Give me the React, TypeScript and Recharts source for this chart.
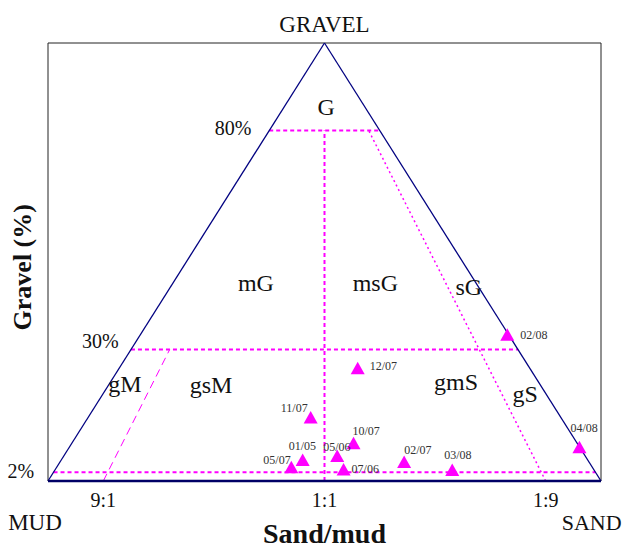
import React from 'react';
import {
  ScatterChart, Scatter, XAxis, YAxis, ReferenceLine, ReferenceArea, ReferenceDot,
} from 'recharts';

// Folk (1954) gravel-sand-mud classification, samples by date
const samples = ['02/08', '04/08', '12/07', '11/07', '10/07', '05/06', '01/05', '05/07', '07/06', '02/07', '03/08'];
const gravelPct = [33.3, 7.6, 25.6, 14.4, 8.5, 5.6, 4.7, 3.0, 2.5, 4.2, 2.4];
const sandPct = [66.4, 92.3, 43.2, 40.3, 51.0, 49.5, 43.7, 42.5, 52.2, 62.3, 71.9];

// class boundaries
const gravelLimits = [2, 30, 80];
const sandMudRatios = [0.1, 0.5, 0.9];
const ratioLabels = ['9:1', '1:1', '1:9'];
const regionNames = ['G', 'mG', 'msG', 'sG', 'gM', 'gsM', 'gmS', 'gS'];

const FONT = '"Liberation Serif", "Times New Roman", serif';
const NAVY = '#000080';
const MAGENTA = '#ff00ff';

// ternary -> cartesian (x across base, y = gravel %)
const toXY = (gravel: number, sand: number) => ({ x: sand + gravel / 2, y: gravel });
const onRatio = (ratio: number, gravel: number) => toXY(gravel, ratio * (100 - gravel));

const points = samples.map((name, i) => ({ name, ...toXY(gravelPct[i], sandPct[i]) }));

// where each sample label sits relative to its marker
const labelOffsets: Record<string, [number, number, 'start' | 'end']> = {
  '02/08': [13, 4, 'start'],
  '04/08': [-9, -16, 'start'],
  '12/07': [12, 1, 'start'],
  '11/07': [-3, -6, 'end'],
  '10/07': [-1, -9, 'start'],
  '05/06': [-14, -5, 'start'],
  '01/05': [-14, -10, 'start'],
  '05/07': [-28, -4, 'start'],
  '07/06': [8, 3, 'start'],
  '02/07': [0, -9, 'start'],
  '03/08': [-8, -11, 'start'],
};

const regionPos: Record<string, [number, number]> = {
  G: [50.3, 83.6], mG: [37.6, 43.4], msG: [59.2, 43.4], sG: [76.1, 42.5],
  gM: [13.9, 20.4], gsM: [29.5, 20.0], gmS: [73.8, 20.8], gS: [86.3, 18.1],
};

function Marker(props: any) {
  const { cx, cy, payload } = props;
  const [dx, dy, anchor] = labelOffsets[payload.name] || [10, 4, 'start'];
  return (
    <g>
      <polygon points={`${cx},${cy - 7} ${cx + 7},${cy + 5.5} ${cx - 7},${cy + 5.5}`} fill={MAGENTA} />
      <text x={cx + dx} y={cy + dy} textAnchor={anchor} fontSize={12} fontFamily={FONT} fill="#333">
        {payload.name}
      </text>
    </g>
  );
}

function txt(value: string, size: number, anchor = 'middle', bold = false, rotate = false) {
  return (p: any) => (
    <text
      x={p.cx}
      y={p.cy}
      textAnchor={anchor}
      fontSize={size}
      fontFamily={FONT}
      fontWeight={bold ? 'bold' : 'normal'}
      fill="#111"
      transform={rotate ? `rotate(-90 ${p.cx} ${p.cy})` : undefined}
    >
      {value}
    </text>
  );
}

export default function App() {
  const [g2, g30, g80] = gravelLimits;
  const [r91, r11, r19] = sandMudRatios;
  return (
    <div style={{ position: 'absolute', left: 0, top: 0, background: '#fff' }}>
      <ScatterChart width={624} height={556} margin={{ top: 43, right: 23, bottom: 75, left: 48 }}>
        <XAxis type="number" dataKey="x" domain={[0, 100]} hide />
        <YAxis type="number" dataKey="y" domain={[0, 100]} hide />

        <ReferenceArea x1={0} x2={100} y1={0} y2={100} fill="none" stroke="#222" strokeWidth={1} ifOverflow="visible" />

        {/* class boundaries */}
        <ReferenceLine segment={[onRatio(0, g80), onRatio(1, g80)]} stroke={MAGENTA} strokeWidth={2} strokeDasharray="4 3" ifOverflow="visible" />
        <ReferenceLine segment={[onRatio(0, g30), onRatio(1, g30)]} stroke={MAGENTA} strokeWidth={2} strokeDasharray="4 3" ifOverflow="visible" />
        <ReferenceLine segment={[onRatio(0, g2), onRatio(1, g2)]} stroke={MAGENTA} strokeWidth={2} strokeDasharray="4 3" ifOverflow="visible" />
        <ReferenceLine segment={[onRatio(r11, 0), onRatio(r11, g80)]} stroke={MAGENTA} strokeWidth={2} strokeDasharray="4 3" ifOverflow="visible" />
        <ReferenceLine segment={[onRatio(r91, 0), onRatio(r91, g30)]} stroke={MAGENTA} strokeWidth={1} strokeDasharray="8 5" ifOverflow="visible" />
        <ReferenceLine segment={[onRatio(r19, 0), onRatio(r19, g80)]} stroke={MAGENTA} strokeWidth={1.5} strokeDasharray="2 3" ifOverflow="visible" />

        {/* triangle */}
        <ReferenceLine segment={[{ x: 0, y: 0 }, { x: 50, y: 100 }]} stroke={NAVY} strokeWidth={1.3} ifOverflow="visible" />
        <ReferenceLine segment={[{ x: 100, y: 0 }, { x: 50, y: 100 }]} stroke={NAVY} strokeWidth={1.3} ifOverflow="visible" />
        <ReferenceLine segment={[{ x: 0, y: 0 }, { x: 100, y: 0 }]} stroke="#000066" strokeWidth={2.5} ifOverflow="visible" />

        {/* texts */}
        <ReferenceDot x={50} y={102.5} r={0} ifOverflow="visible" shape={txt('GRAVEL', 23)} />
        <ReferenceDot x={-2.35} y={-11.2} r={0} ifOverflow="visible" shape={txt('MUD', 23)} />
        <ReferenceDot x={98.3} y={-11.2} r={0} ifOverflow="visible" shape={txt('SAND', 22)} />
        {sandMudRatios.map((r, i) => (
          <ReferenceDot key={ratioLabels[i]} x={r * 100} y={-5.9} r={0} ifOverflow="visible" shape={txt(ratioLabels[i], 20)} />
        ))}
        <ReferenceDot x={36.8} y={79} r={0} ifOverflow="visible" shape={txt(`${g80}%`, 20, 'end')} />
        <ReferenceDot x={12.8} y={30.3} r={0} ifOverflow="visible" shape={txt(`${g30}%`, 20, 'end')} />
        <ReferenceDot x={-2.5} y={0.75} r={0} ifOverflow="visible" shape={txt(`${g2}%`, 20, 'end')} />
        {regionNames.map((n) => (
          <ReferenceDot key={n} x={regionPos[n][0]} y={regionPos[n][1]} r={0} ifOverflow="visible" shape={txt(n, 24)} />
        ))}
        <ReferenceDot x={50} y={-14.2} r={0} ifOverflow="visible" shape={txt('Sand/mud', 28, 'middle', true)} />
        <ReferenceDot x={-3.1} y={48.8} r={0} ifOverflow="visible" shape={txt('Gravel (%)', 26, 'middle', true, true)} />

        <Scatter data={points} shape={<Marker />} isAnimationActive={false} />
      </ScatterChart>
    </div>
  );
}
